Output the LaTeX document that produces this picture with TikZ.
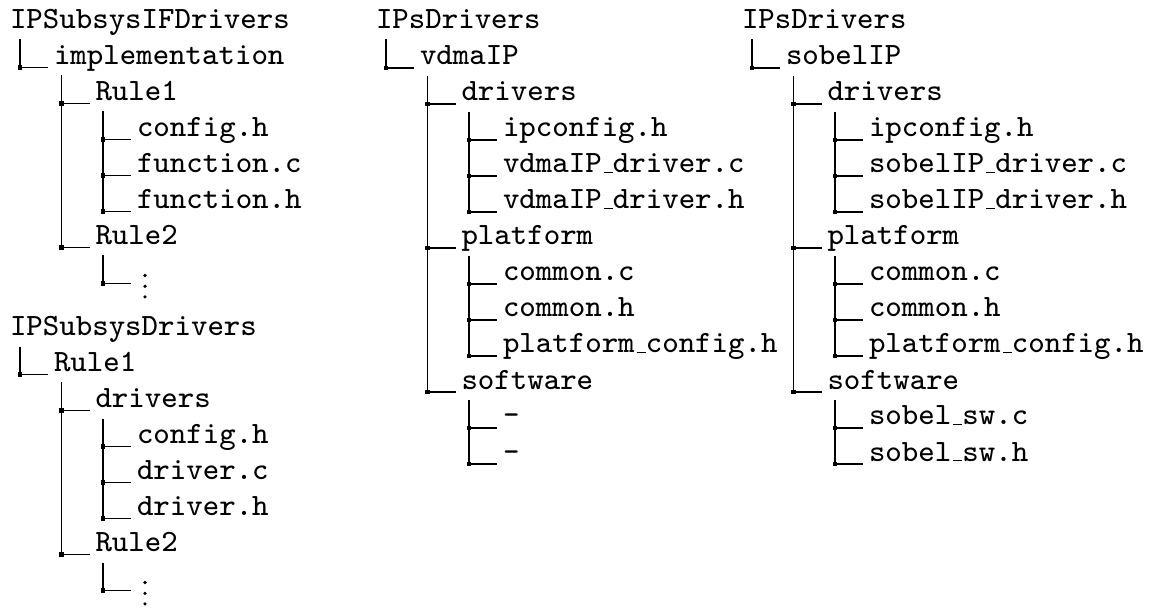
\documentclass[tikz,border=0pt]{standalone}
\usetikzlibrary{calc}

% short low rule used as the underscore in file names
\newcommand\us{\kern.06em\vbox{\hrule height .3pt width .3em}}

\tikzset{
  entry/.style={anchor=base west, inner sep=0pt, outer sep=0pt,
                font=\fontsize{7.75pt}{9pt}\selectfont\ttfamily},
  hline/.style={line width=0.26pt},
  vline/.style={line width=0.32pt},
  dot/.style={circle, fill, inner sep=0pt, minimum size=0.9pt},
}

% one entry of a directory tree: junction, branch, knot and label
\newcommand\dirrow[4]{%
  \coordinate (#1-j) at (#2,#3);
  \node[entry] (#1) at ($(#1-j)+(34,-3)$) {#4};
  \draw[hline] (#1-j) -- ++(28,0);
  \fill (#1-j) ++(-2.25,-2.25) rectangle ++(4.5,4.5);
}
% an elided entry shown as three vertical dots
\newcommand\dirmore[3]{%
  \coordinate (#1-j) at (#2,#3);
  \node[dot] (#1-a) at ($(#1-j)+(42,-8)$) {};
  \node[dot] (#1-b) at ($(#1-j)+(42,2.8)$) {};
  \node[dot] (#1-c) at ($(#1-j)+(42,13.4)$) {};
  \draw[hline] (#1-j) -- ++(28,0);
  \fill (#1-j) ++(-2.25,-2.25) rectangle ++(4.5,4.5);
}
% trunk from below a parent down to its last child
\newcommand\trunk[2]{\draw[vline] ($(#1-j)+(41.5,8)$) -- (#2-j);}

\begin{document}
\begin{tikzpicture}[x=0.25pt,y=-0.25pt]
\useasboundingbox (0,0) rectangle (1154,608);

% ---------------- IPSubsysIFDrivers ----------------
\coordinate (a-j) at (-21.5,31.5);
\node[entry] (a) at (10,28.5) {IPSubsysIFDrivers};
\dirrow{a1}{20}{67.5}{implementation}
\dirrow{a11}{61.5}{103.5}{Rule1}
\dirrow{a111}{103}{139.5}{config.h}
\dirrow{a112}{103}{175.5}{function.c}
\dirrow{a113}{103}{211.5}{function.h}
\dirrow{a12}{61.5}{247.5}{Rule2}
\dirmore{a121}{103}{283.5}
\trunk{a}{a1}
\trunk{a1}{a12}
\trunk{a11}{a113}
\trunk{a12}{a121}

% ---------------- IPSubsysDrivers ----------------
\coordinate (b-j) at (-21.5,339);
\node[entry] (b) at (10,336) {IPSubsysDrivers};
\dirrow{b1}{20}{374.5}{Rule1}
\dirrow{b11}{61.5}{410.5}{drivers}
\dirrow{b111}{103}{446.5}{config.h}
\dirrow{b112}{103}{482.5}{driver.c}
\dirrow{b113}{103}{518.5}{driver.h}
\dirrow{b12}{61.5}{554.5}{Rule2}
\dirmore{b121}{103}{590.5}
\trunk{b}{b1}
\trunk{b1}{b12}
\trunk{b11}{b113}
\trunk{b12}{b121}

% ---------------- IPsDrivers / vdmaIP ----------------
\coordinate (c-j) at (344.5,31.5);
\node[entry] (c) at (376,28.5) {IPsDrivers};
\dirrow{c1}{386}{68}{vdmaIP}
\dirrow{c11}{427.5}{104}{drivers}
\dirrow{c111}{469}{140}{ipconfig.h}
\dirrow{c112}{469}{176}{vdmaIP\us driver.c}
\dirrow{c113}{469}{212}{vdmaIP\us driver.h}
\dirrow{c12}{427.5}{248}{platform}
\dirrow{c121}{469}{284}{common.c}
\dirrow{c122}{469}{320}{common.h}
\dirrow{c123}{469}{356}{platform\us config.h}
\dirrow{c13}{427.5}{392}{software}
\dirrow{c131}{469}{428}{-}
\dirrow{c132}{469}{464}{-}
\trunk{c}{c1}
\trunk{c1}{c13}
\trunk{c11}{c113}
\trunk{c12}{c123}
\trunk{c13}{c132}

% ---------------- IPsDrivers / sobelIP ----------------
\coordinate (d-j) at (710.5,31.5);
\node[entry] (d) at (742,28.5) {IPsDrivers};
\dirrow{d1}{752}{68}{sobelIP}
\dirrow{d11}{793.5}{104}{drivers}
\dirrow{d111}{835}{140}{ipconfig.h}
\dirrow{d112}{835}{176}{sobelIP\us driver.c}
\dirrow{d113}{835}{212}{sobelIP\us driver.h}
\dirrow{d12}{793.5}{248}{platform}
\dirrow{d121}{835}{284}{common.c}
\dirrow{d122}{835}{320}{common.h}
\dirrow{d123}{835}{356}{platform\us config.h}
\dirrow{d13}{793.5}{392}{software}
\dirrow{d131}{835}{428}{sobel\us sw.c}
\dirrow{d132}{835}{464}{sobel\us sw.h}
\trunk{d}{d1}
\trunk{d1}{d13}
\trunk{d11}{d113}
\trunk{d12}{d123}
\trunk{d13}{d132}
\end{tikzpicture}
\end{document}
